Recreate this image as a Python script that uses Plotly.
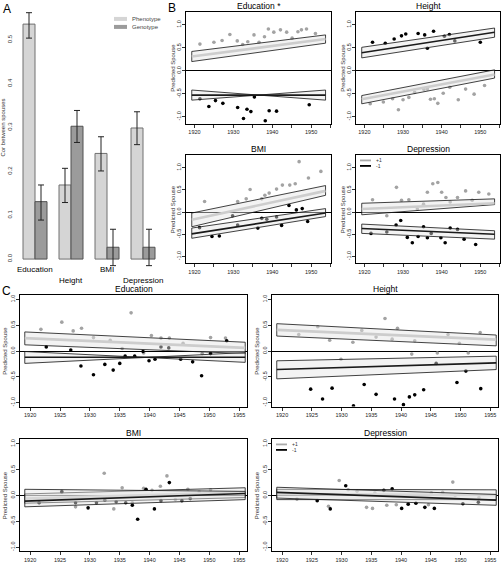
import plotly.graph_objects as go

W, H = 501, 563
FONT = "Liberation Sans, Arial, Helvetica, sans-serif"

# ---------------- Panel A data ----------------
TRAITS = ["Education", "Height", "BMI", "Depression"]
PHENO_COR = [0.536, 0.169, 0.241, 0.299]
PHENO_LO = [0.504, 0.129, 0.201, 0.261]
PHENO_HI = [0.562, 0.207, 0.279, 0.336]
GENO_COR = [0.131, 0.303, 0.027, 0.027]
GENO_LO = [0.089, 0.266, -0.015, -0.015]
GENO_HI = [0.169, 0.339, 0.068, 0.068]
A_YTICKS = [0.0, 0.1, 0.2, 0.3, 0.4, 0.5]

# ---------------- Panel B data (birth year vs predicted spouse) ----------------
B_FIT_YEARS = [1919.3, 1953.7]
C_FIT_YEARS = [1919.1, 1956.0]
# fit = [center_start, center_end, upper_start, upper_end, lower_start, lower_end]

B_EDU_POS_YEAR = [1921.4, 1925.0, 1927.1, 1929.1, 1931.0, 1932.4, 1933.7, 1935.3, 1936.6, 1938.0,
                  1939.0, 1940.4, 1942.1, 1943.7, 1945.1, 1946.6, 1947.5, 1948.8, 1951.1]
B_EDU_POS_VAL = [0.58, 0.62, 0.66, 0.79, 0.65, 0.57, 0.63, 0.78, 0.62, 0.74,
                 0.91, 0.84, 0.89, 0.84, 0.71, 0.85, 0.89, 0.91, 0.81]
B_EDU_NEG_YEAR = [1921.4, 1923.7, 1925.4, 1927.3, 1931.1, 1932.6, 1933.5, 1934.5, 1935.4, 1938.2,
                  1939.2, 1941.1, 1949.5]
B_EDU_NEG_VAL = [-0.61, -0.78, -0.65, -0.71, -0.80, -1.04, -0.84, -0.89, -0.57, -1.09,
                 -0.87, -0.88, -0.74]
B_EDU_POS_FIT = [0.31, 0.69, 0.42, 0.78, 0.20, 0.60]
B_EDU_NEG_FIT = [-0.53, -0.53, -0.42, -0.64, -0.64, -0.42]

B_HGT_POS_YEAR = [1921.5, 1924.9, 1927.3, 1928.8, 1930.0, 1931.5, 1933.0, 1935.4, 1936.3, 1937.1,
                  1938.1, 1939.0, 1940.4, 1942.1, 1944.3, 1946.2, 1948.4, 1951.1]
B_HGT_POS_VAL = [-0.72, -0.68, -0.61, -0.85, -0.63, -0.58, -0.47, -0.41, -0.40, -0.62,
                 -0.61, -0.71, -0.49, -0.36, -0.63, -0.40, -0.51, -0.32]
B_HGT_NEG_YEAR = [1922.1, 1925.4, 1927.7, 1929.6, 1930.7, 1933.9, 1935.6, 1936.3, 1937.9, 1940.7,
                  1942.0, 1943.4, 1950.0]
B_HGT_NEG_VAL = [0.62, 0.60, 0.69, 0.76, 0.80, 0.81, 0.78, 0.49, 0.86, 0.75,
                 0.79, 0.65, 0.62]
B_HGT_POS_FIT = [-0.62, -0.08, -0.54, 0.02, -0.72, -0.16]
B_HGT_NEG_FIT = [0.39, 0.84, 0.51, 0.93, 0.28, 0.73]

B_BMI_POS_YEAR = [1922.6, 1931.1, 1933.3, 1934.3, 1937.3, 1938.1, 1939.2, 1941.1, 1942.6, 1944.5,
                  1945.9, 1946.9, 1949.3, 1952.5]
B_BMI_POS_VAL = [0.24, 0.24, 0.30, 0.51, 0.30, 0.38, 0.43, 0.52, 0.61, 0.61,
                 0.64, 1.14, 0.77, 0.92]
B_BMI_NEG_YEAR = [1921.3, 1924.5, 1926.4, 1929.8, 1931.1, 1936.3, 1937.3, 1938.6, 1941.1, 1942.4,
                  1944.3, 1946.2, 1947.7, 1949.1]
B_BMI_NEG_VAL = [-0.35, -0.55, -0.54, -0.08, -0.29, -0.36, -0.14, -0.16, -0.11, -0.30,
                 0.15, 0.05, 0.08, -0.21]
B_BMI_POS_FIT = [-0.17, 0.48, -0.02, 0.60, -0.33, 0.38]
B_BMI_NEG_FIT = [-0.49, -0.02, -0.36, 0.08, -0.59, -0.10]

B_DEP_POS_YEAR = [1922.1, 1925.8, 1928.3, 1929.6, 1931.5, 1933.7, 1935.3, 1936.3, 1937.7, 1939.0,
                  1940.0, 1941.1, 1942.2, 1944.1, 1946.2, 1947.9, 1949.6, 1952.2]
B_DEP_POS_VAL = [0.28, -0.08, 0.56, 0.27, 0.28, 0.07, 0.18, 0.45, 0.64, 0.67,
                 0.45, 0.33, 0.23, 0.33, 0.48, 0.27, 0.45, 0.41]
B_DEP_NEG_YEAR = [1921.7, 1925.8, 1928.2, 1929.4, 1931.1, 1932.4, 1933.9, 1935.3, 1936.3, 1937.3,
                  1939.8, 1940.9, 1942.2, 1944.1, 1945.8, 1948.8]
B_DEP_NEG_VAL = [-0.48, -0.45, -0.29, -0.19, -0.57, -0.69, -0.55, -0.33, -0.58, -0.48,
                 -0.58, -0.69, -0.36, -0.39, -0.61, -0.73]
B_DEP_POS_FIT = [0.07, 0.20, 0.20, 0.30, -0.06, 0.17]
B_DEP_NEG_FIT = [-0.37, -0.50, -0.27, -0.42, -0.48, -0.61]

# ---------------- Panel C data ----------------
C_EDU_POS_YEAR = [1921.8, 1925.3, 1927.2, 1928.6, 1930.6, 1933.4, 1935.4, 1936.9, 1939.0, 1940.3,
                  1941.9, 1943.3, 1945.6, 1948.8, 1950.2, 1952.7]
C_EDU_POS_VAL = [0.42, 0.56, 0.39, 0.44, 0.26, 0.21, 0.05, 0.74, -0.04, 0.30,
                 0.25, 0.25, 0.15, -0.05, 0.26, 0.25]
C_EDU_NEG_YEAR = [1922.7, 1926.8, 1928.5, 1930.6, 1932.5, 1933.9, 1935.0, 1935.9, 1937.5, 1938.9,
                  1939.9, 1940.9, 1941.9, 1943.2, 1945.2, 1947.2, 1948.7, 1950.2, 1952.9]
C_EDU_NEG_VAL = [0.08, 0.02, -0.29, -0.46, -0.26, -0.37, -0.24, -0.10, -0.10, -0.01,
                 -0.19, -0.16, 0.08, 0.06, -0.16, -0.21, -0.48, -0.05, 0.20]
C_EDU_POS_FIT = [0.25, 0.06, 0.37, 0.17, 0.12, -0.05]
C_EDU_NEG_FIT = [-0.12, -0.12, -0.01, -0.22, -0.24, -0.03]

C_HGT_POS_YEAR = [1922.8, 1926.0, 1928.0, 1929.9, 1931.9, 1933.4, 1935.8, 1937.3, 1938.5, 1939.4,
                  1941.8, 1942.3, 1946.1, 1947.9, 1949.8, 1951.3, 1953.3]
C_HGT_POS_VAL = [0.32, 0.47, 0.21, -0.16, 0.17, 0.40, 0.27, 0.63, 0.23, 0.44,
                 -0.06, 0.20, -0.04, 0.32, 0.15, -0.04, 0.36]
C_HGT_NEG_YEAR = [1924.8, 1926.8, 1928.4, 1932.0, 1933.8, 1935.8, 1938.9, 1940.4, 1941.4, 1942.3,
                  1943.8, 1945.9, 1949.4, 1950.9, 1953.4]
C_HGT_NEG_VAL = [-0.74, -0.93, -0.72, -1.06, -0.65, -0.84, -0.93, -1.04, -0.89, -0.85,
                 -0.75, -0.24, -0.61, -0.39, -0.73]
C_HGT_POS_FIT = [0.41, 0.22, 0.53, 0.31, 0.29, 0.10]
C_HGT_NEG_FIT = [-0.36, -0.23, -0.19, -0.10, -0.54, -0.36]

C_BMI_POS_YEAR = [1921.5, 1925.3, 1927.6, 1932.4, 1934.0, 1935.4, 1937.1, 1939.0, 1940.4, 1941.8,
                  1942.9, 1944.3, 1946.4, 1948.3, 1950.2]
C_BMI_POS_VAL = [-0.14, 0.08, -0.22, 0.43, -0.26, 0.15, -0.14, 0.14, 0.10, 0.18,
                 0.38, -0.08, 0.12, 0.07, 0.11]
C_BMI_NEG_YEAR = [1921.5, 1925.3, 1927.6, 1929.7, 1931.1, 1932.5, 1934.4, 1936.0, 1937.1, 1938.0,
                  1939.4, 1940.8, 1941.9, 1943.3, 1945.4, 1946.8]
C_BMI_NEG_VAL = [-0.14, 0.07, -0.14, -0.24, -0.14, -0.09, -0.12, -0.14, -0.19, -0.46,
                 0.12, -0.26, -0.10, 0.25, -0.10, -0.06]
C_BMI_POS_FIT = [-0.06, 0.06, 0.03, 0.15, -0.15, -0.04]
C_BMI_NEG_FIT = [-0.11, 0.04, 0.12, 0.08, -0.22, -0.08]

C_DEP_POS_YEAR = [1922.5, 1927.8, 1929.6, 1931.1, 1932.6, 1934.2, 1935.2, 1935.6, 1937.6, 1939.2,
                  1941.2, 1944.6, 1945.1, 1947.0, 1948.7, 1949.1, 1953.1]
C_DEP_POS_VAL = [-0.07, -0.21, 0.29, 0.11, 0.08, -0.23, -0.25, 0.05, -0.19, -0.18,
                 -0.16, -0.18, 0.05, 0.06, 0.26, 0.00, -0.04]
C_DEP_NEG_YEAR = [1925.9, 1928.1, 1930.7, 1937.1, 1938.5, 1940.1, 1941.2, 1942.5, 1944.0, 1945.6,
                  1950.4, 1953.0]
C_DEP_NEG_VAL = [-0.10, -0.26, 0.19, 0.10, 0.13, -0.25, -0.17, -0.15, -0.23, -0.25,
                 -0.16, -0.13]
C_DEP_POS_FIT = [0.03, 0.01, 0.12, 0.11, -0.08, -0.08]
C_DEP_NEG_FIT = [0.06, -0.09, 0.16, 0.02, -0.05, -0.19]

YEAR_TICKS = [1920, 1925, 1930, 1935, 1940, 1945, 1950, 1955]
Y_TICKS = [-1.0, -0.5, 0.0, 0.5, 1.0]

# ---------------- styling ----------------
GRAY_PT = "#a3a3a3"
BLACK_PT = "#000000"
BAND_FILL = "rgba(228,228,228,0.45)"
B_XRANGE = [1917.82, 1955.1]
C_XRANGE = [1918.3, 1956.3]
B_YRANGE = [-1.15, 1.28]
C_YRANGE = [-1.077, 1.087]

PANELS = [
    dict(n=2, kind="B", title="Education *", box=(186, 12, 331, 124),
         pos=(B_EDU_POS_YEAR, B_EDU_POS_VAL), neg=(B_EDU_NEG_YEAR, B_EDU_NEG_VAL),
         pfit=B_EDU_POS_FIT, nfit=B_EDU_NEG_FIT, legend=False),
    dict(n=3, kind="B", title="Height", box=(356, 12, 500, 124),
         pos=(B_HGT_POS_YEAR, B_HGT_POS_VAL), neg=(B_HGT_NEG_YEAR, B_HGT_NEG_VAL),
         pfit=B_HGT_POS_FIT, nfit=B_HGT_NEG_FIT, legend=False),
    dict(n=4, kind="B", title="BMI", box=(186, 156, 331, 264),
         pos=(B_BMI_POS_YEAR, B_BMI_POS_VAL), neg=(B_BMI_NEG_YEAR, B_BMI_NEG_VAL),
         pfit=B_BMI_POS_FIT, nfit=B_BMI_NEG_FIT, legend=False),
    dict(n=5, kind="B", title="Depression", box=(356, 156, 500, 264),
         pos=(B_DEP_POS_YEAR, B_DEP_POS_VAL), neg=(B_DEP_NEG_YEAR, B_DEP_NEG_VAL),
         pfit=B_DEP_POS_FIT, nfit=B_DEP_NEG_FIT, legend=True),
    dict(n=6, kind="C", title="Education", box=(20, 296, 247, 408),
         pos=(C_EDU_POS_YEAR, C_EDU_POS_VAL), neg=(C_EDU_NEG_YEAR, C_EDU_NEG_VAL),
         pfit=C_EDU_POS_FIT, nfit=C_EDU_NEG_FIT, legend=False),
    dict(n=7, kind="C", title="Height", box=(272, 296, 498, 408),
         pos=(C_HGT_POS_YEAR, C_HGT_POS_VAL), neg=(C_HGT_NEG_YEAR, C_HGT_NEG_VAL),
         pfit=C_HGT_POS_FIT, nfit=C_HGT_NEG_FIT, legend=False),
    dict(n=8, kind="C", title="BMI", box=(20, 441, 247, 553),
         pos=(C_BMI_POS_YEAR, C_BMI_POS_VAL), neg=(C_BMI_NEG_YEAR, C_BMI_NEG_VAL),
         pfit=C_BMI_POS_FIT, nfit=C_BMI_NEG_FIT, legend=False),
    dict(n=9, kind="C", title="Depression", box=(272, 441, 498, 553),
         pos=(C_DEP_POS_YEAR, C_DEP_POS_VAL), neg=(C_DEP_NEG_YEAR, C_DEP_NEG_VAL),
         pfit=C_DEP_POS_FIT, nfit=C_DEP_NEG_FIT, legend=True),
]

fig = go.Figure()

# ---------------- Panel A ----------------
xp = [1.5 + 3 * i for i in range(len(TRAITS))]
xg = [2.5 + 3 * i for i in range(len(TRAITS))]
fig.add_trace(go.Bar(
    x=xp, y=PHENO_COR, width=1, xaxis="x", yaxis="y", showlegend=False,
    marker=dict(color="#d5d5d5", line=dict(color="#707070", width=1)),
    error_y=dict(type="data", symmetric=False,
                 array=[h - v for h, v in zip(PHENO_HI, PHENO_COR)],
                 arrayminus=[v - l for v, l in zip(PHENO_COR, PHENO_LO)],
                 color="#222222", thickness=1, width=3),
    hoverinfo="skip"))
fig.add_trace(go.Bar(
    x=xg, y=GENO_COR, width=1, xaxis="x", yaxis="y", showlegend=False,
    marker=dict(color="#9b9b9b", line=dict(color="#505050", width=1)),
    error_y=dict(type="data", symmetric=False,
                 array=[h - v for h, v in zip(GENO_HI, GENO_COR)],
                 arrayminus=[v - l for v, l in zip(GENO_COR, GENO_LO)],
                 color="#222222", thickness=1, width=3),
    hoverinfo="skip"))

annotations = []
shapes = []


def px_x(v):
    return v / W


def px_y(v):
    return 1 - v / H


# A labels (staggered)
for i, name in enumerate(TRAITS):
    annotations.append(dict(x=(xp[i] + xg[i]) / 2, y=px_y(270 if i % 2 == 0 else 281),
                            xref="x", yref="paper", text=name, showarrow=False,
                            font=dict(size=8, family=FONT, color="black"),
                            xanchor="center", yanchor="middle"))
annotations.append(dict(x=px_x(3), y=px_y(128), xref="paper", yref="paper",
                        text="Cor between spouses", textangle=-90, showarrow=False,
                        font=dict(size=6, family=FONT, color="#333"),
                        xanchor="center", yanchor="middle"))
# A legend
for k, (lab, col) in enumerate([("Phenotype", "#d5d5d5"), ("Genotype", "#9b9b9b")]):
    yy = 19 + 8 * k
    shapes.append(dict(type="line", xref="paper", yref="paper", x0=px_x(114), x1=px_x(127),
                       y0=px_y(yy), y1=px_y(yy), line=dict(color=col, width=4)))
    annotations.append(dict(x=px_x(130), y=px_y(yy), xref="paper", yref="paper", text=lab,
                            showarrow=False, xanchor="left", yanchor="middle",
                            font=dict(size=6, family=FONT, color="#444")))

# panel letters
for letter, (lx, ly) in {"A": (7, 9), "B": (172, 8), "C": (6, 292)}.items():
    annotations.append(dict(x=px_x(lx), y=px_y(ly), xref="paper", yref="paper", text=letter,
                            showarrow=False, xanchor="center", yanchor="middle",
                            font=dict(size=12, family=FONT, color="black")))

layout_axes = {}
# A axes: bar unit 1 -> x pixel 23, 12 px/unit
layout_axes["xaxis"] = dict(domain=[px_x(13), px_x(168)], range=[1 - 10 / 12, 1 + 145 / 12],
                            anchor="y", showline=False, showticklabels=False, ticks="",
                            showgrid=False, zeroline=False, fixedrange=True)
layout_axes["yaxis"] = dict(domain=[px_y(268.8), px_y(10.1)], range=[-0.02, 0.568],
                            anchor="x", showline=False, showgrid=False, zeroline=False,
                            tickvals=A_YTICKS, ticktext=["%.1f" % v for v in A_YTICKS],
                            tickangle=-90, ticks="", ticklabelstandoff=-1,
                            tickfont=dict(size=6, family=FONT, color="#333"),
                            fixedrange=True)


def add_band(xs, fit, xa, ya, center_color, center_width):
    c0, c1, u0, u1, l0, l1 = fit
    fig.add_trace(go.Scatter(x=[xs[0], xs[1], xs[1], xs[0], xs[0]], y=[u0, u1, l1, l0, u0],
                             mode="lines", fill="toself", fillcolor=BAND_FILL,
                             line=dict(color="#111", width=0.8), xaxis=xa, yaxis=ya,
                             showlegend=False, hoverinfo="skip"))
    fig.add_trace(go.Scatter(x=xs, y=[c0, c1], mode="lines",
                             line=dict(color=center_color, width=center_width),
                             xaxis=xa, yaxis=ya, showlegend=False, hoverinfo="skip"))


for p in PANELS:
    n = p["n"]
    xa, ya = "x%d" % n, "y%d" % n
    l, t, r, b = p["box"]
    isB = p["kind"] == "B"
    fit_years = B_FIT_YEARS if isB else C_FIT_YEARS
    # points
    fig.add_trace(go.Scatter(x=p["pos"][0], y=p["pos"][1], mode="markers",
                             marker=dict(color=GRAY_PT, size=3.6), xaxis=xa, yaxis=ya,
                             showlegend=False, hoverinfo="skip"))
    fig.add_trace(go.Scatter(x=p["neg"][0], y=p["neg"][1], mode="markers",
                             marker=dict(color=BLACK_PT, size=3.6), xaxis=xa, yaxis=ya,
                             showlegend=False, hoverinfo="skip"))
    add_band(fit_years, p["pfit"], xa, ya, "#cdcdcd", 2.6)
    add_band(fit_years, p["nfit"], xa, ya, "#1a1a1a", 1.6)

    if isB:
        ttext = [str(v) if v % 10 == 0 else "" for v in YEAR_TICKS]
    else:
        ttext = [str(v) for v in YEAR_TICKS]
    layout_axes["xaxis%d" % n] = dict(
        domain=[px_x(l), px_x(r)], range=B_XRANGE if isB else C_XRANGE, anchor=ya,
        showline=True, mirror=True, linecolor="black", linewidth=1,
        ticks="outside", ticklen=3, tickwidth=0.8, tickcolor="black",
        tickvals=YEAR_TICKS, ticktext=ttext,
        tickfont=dict(size=5.5, family=FONT, color="#222"),
        showgrid=False, zeroline=False, fixedrange=True)
    layout_axes["yaxis%d" % n] = dict(
        domain=[px_y(b), px_y(t)], range=B_YRANGE if isB else C_YRANGE, anchor=xa,
        showline=True, mirror=True, linecolor="black", linewidth=1,
        ticks="outside", ticklen=3, tickwidth=0.8, tickcolor="black",
        tickvals=Y_TICKS, ticktext=["%.1f" % v for v in Y_TICKS], tickangle=-90,
        ticklabelstandoff=-1,
        tickfont=dict(size=5.5, family=FONT, color="#222"),
        showgrid=False, zeroline=True, zerolinecolor="black", zerolinewidth=1,
        fixedrange=True)
    # title
    annotations.append(dict(x=px_x((l + r) / 2), y=px_y(t - 6), xref="paper", yref="paper",
                            text=p["title"], showarrow=False, xanchor="center", yanchor="middle",
                            font=dict(size=8.5, family=FONT, color="black")))
    # y title
    annotations.append(dict(x=px_x(l - 13 if isB else l - 15), y=px_y((t + b) / 2),
                            xref="paper", yref="paper", text="Predicted Spouse", textangle=-90,
                            showarrow=False, xanchor="center", yanchor="middle",
                            font=dict(size=6, family=FONT, color="#333")))
    if p["legend"]:
        lx0 = l + 4
        ly0 = t + 5
        for k, (lab, col) in enumerate([("+1", "#aaaaaa"), ("-1", "#000000")]):
            yy = ly0 + 5.5 * k
            shapes.append(dict(type="line", xref="paper", yref="paper", x0=px_x(lx0),
                               x1=px_x(lx0 + 11), y0=px_y(yy), y1=px_y(yy),
                               line=dict(color=col, width=1.8)))
            annotations.append(dict(x=px_x(lx0 + 14), y=px_y(yy), xref="paper", yref="paper",
                                    text=lab, showarrow=False, xanchor="left", yanchor="middle",
                                    font=dict(size=5, family=FONT, color="#333")))

fig.update_layout(
    width=W, height=H, autosize=False,
    margin=dict(l=0, r=0, t=0, b=0, pad=0),
    paper_bgcolor="white", plot_bgcolor="white",
    barmode="overlay", showlegend=False,
    font=dict(family=FONT, color="black"),
    annotations=annotations, shapes=shapes,
    **layout_axes,
)

fig.write_html("out.html", config={"displayModeBar": False, "staticPlot": True},
               post_script="document.body.style.margin='0';document.body.style.overflow='hidden';")
